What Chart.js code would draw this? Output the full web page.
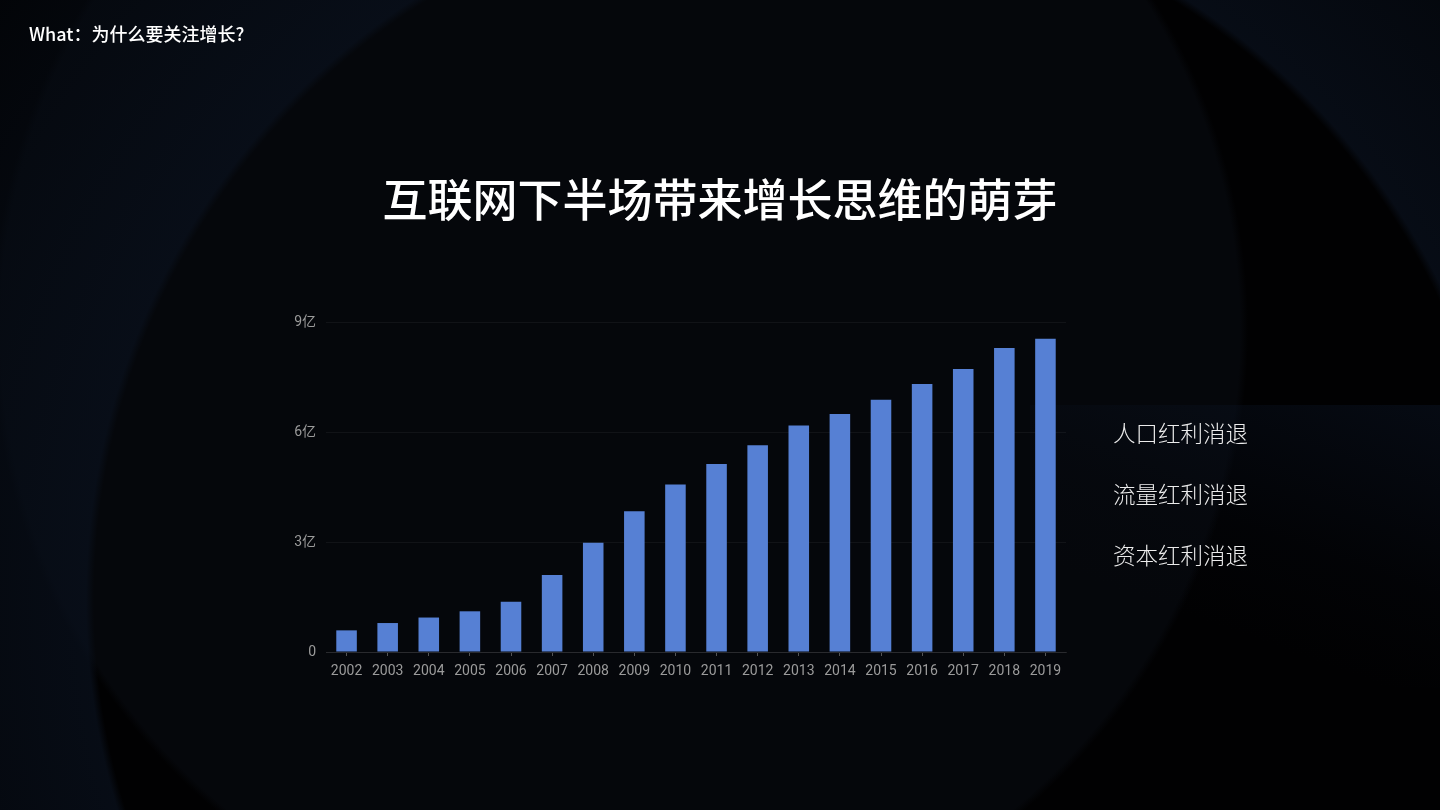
<!DOCTYPE html>
<html>
<head>
<meta charset="utf-8">
<script src="https://cdn.jsdelivr.net/npm/chart.js@4/dist/chart.umd.min.js"></script>
<style>
  html, body { margin: 0; padding: 0; }
  body {
    width: 1440px; height: 810px; overflow: hidden; position: relative;
    font-family: "Noto Sans CJK SC", "Noto Sans", sans-serif;
    background:
      radial-gradient(circle at 800px 600px, transparent 0 706px, rgba(9,16,28,0.75) 714px, rgba(4,8,14,0.5) 1000px),
      radial-gradient(circle at 620px 330px, #05070b 0 620px, #010102 628px);
  }
  .panel {
    position: absolute; left: 1030px; top: 405px; width: 410px; height: 283px;
    background: linear-gradient(200deg, rgba(12,22,40,0.45) 0%, rgba(8,14,26,0.15) 45%, rgba(0,0,0,0) 70%);
  }
  #chartWrap { position: absolute; left: 0; top: 0; width: 1440px; height: 810px; }
  .crumb {
    position: absolute; left: 29px; top: 21px; line-height: 24px;
    font-size: 18px; font-weight: 500; color: #fff;
  }
  .title {
    position: absolute; left: 0; width: 1440px; top: 168px; line-height: 60px;
    text-align: center; font-size: 45px; font-weight: 500; color: #fff;
  }
  .points {
    position: absolute; left: 1113px; top: 402px;
    font-size: 22.5px; font-weight: 300; color: #ececec; line-height: 61px;
  }
</style>
</head>
<body>
<div class="panel"></div>
<div id="chartWrap"><canvas id="growthChart"></canvas></div>
<div class="crumb">What：为什么要关注增长?</div>
<div class="title">互联网下半场带来增长思维的萌芽</div>
<div class="points">
  <div>人口红利消退</div>
  <div>流量红利消退</div>
  <div>资本红利消退</div>
</div>
<script>
// 网民规模（亿人）
const years = ['2002','2003','2004','2005','2006','2007','2008','2009','2010',
               '2011','2012','2013','2014','2015','2016','2017','2018','2019'];
const users = [0.59, 0.79, 0.94, 1.11, 1.37, 2.10, 2.98, 3.84, 4.57,
               5.13, 5.64, 6.18, 6.49, 6.88, 7.31, 7.72, 8.29, 8.54];
const yTicks = [0, 3, 6, 9];
const yTickLabels = ['0', '3亿', '6亿', '9亿'];

const tickFont = { family: "Roboto, 'Noto Sans CJK SC', sans-serif", size: 14 };
const tickColor = '#9b9b9b';

new Chart(document.getElementById('growthChart'), {
  type: 'bar',
  data: {
    labels: years,
    datasets: [{
      label: '网民规模',
      data: users,
      backgroundColor: '#5680d4',
      borderWidth: 0,
      categoryPercentage: 1,
      barPercentage: 0.5
    }]
  },
  options: {
    responsive: true, maintainAspectRatio: false, animation: false,
    layout: { padding: { left: 260, right: 374, top: 322, bottom: 118 } },
    plugins: { legend: { display: false }, tooltip: { enabled: false } },
    scales: {
      x: {
        grid: { drawOnChartArea: false, offset: false, tickLength: 4, color: 'rgba(150,150,150,0.55)' },
        border: { color: 'rgba(255,255,255,0.10)' },
        ticks: { color: tickColor, font: tickFont, padding: 7, maxRotation: 0, autoSkip: false },
        afterFit: s => { s.height = 40; }
      },
      y: {
        min: 0, max: 9,
        afterBuildTicks: s => { s.ticks = yTicks.map(v => ({ value: v })); },
        grid: { drawTicks: false, color: 'rgba(255,255,255,0.05)' },
        border: { display: false },
        ticks: {
          color: tickColor, font: tickFont, padding: 10,
          callback: v => yTickLabels[yTicks.indexOf(v)]
        },
        afterFit: s => { s.width = 66; }
      }
    }
  }
});
</script>
</body>
</html>
